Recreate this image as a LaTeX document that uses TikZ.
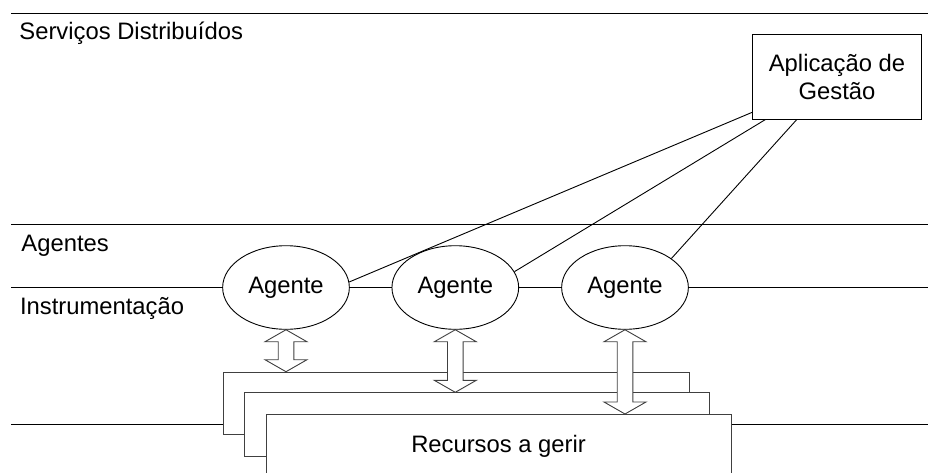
\documentclass[tikz,border=0pt]{standalone}
\usepackage{fontspec}
\setmainfont{Liberation Sans}
\usetikzlibrary{shapes.geometric,calc}
\tikzset{
  lab/.style={anchor=base west, inner sep=0pt},
  agent/.style={ellipse, draw, fill=white, minimum width=126.7pt, minimum height=83.6pt, inner sep=0pt},
  res/.style={draw=black!75, fill=white, inner sep=0pt, anchor=north west},
  arrowbox/.style={draw=black!75, fill=white, line join=miter},
  appbox/.style={draw, fill=white, minimum width=169.4pt, minimum height=84.3pt, align=center, inner sep=0pt},
}
\newcommand\dblarr[2]{%
  \draw[arrowbox] let \p1=(#1.south), \p2=(#1.south |- #2.north) in
    (\x1,\y1) -- (\x1+21pt,\y1-12pt) -- (\x1+7.8pt,\y1-12pt) -- (\x1+7.8pt,\y2+12pt)
    -- (\x1+21pt,\y2+12pt) -- (\x2,\y2) -- (\x1-21pt,\y2+12pt) -- (\x1-7.8pt,\y2+12pt)
    -- (\x1-7.8pt,\y1-12pt) -- (\x1-21pt,\y1-12pt) -- cycle;}
\begin{document}
\begin{tikzpicture}[x=1pt,y=-1pt,font=\fontsize{23.8}{27.7}\selectfont,line width=0.9pt]
\clip (0,0) rectangle (929,472);
\fill[white] (0,0) rectangle (929,472);

% layer lines
\coordinate (t0) at (11,13.3);  \coordinate (t1) at (928,13.3);
\coordinate (m0) at (11,224.7); \coordinate (m1) at (928,224.7);
\coordinate (i0) at (11,287.5); \coordinate (i1) at (928,287.5);
\coordinate (b0) at (11,424);   \coordinate (b1) at (928,424);
\draw (t0) -- (t1);
\draw (m0) -- (m1);

% labels
\node[lab] (sd) at (19,39.5) {Serviços Distribuídos};
\node[lab] (ag) at (21,251) {Agentes};
\node[lab] (ins) at (19.6,314.5) {Instrumentação};

% management application
\node[appbox] (app) at (837,76.85) {Aplicação de\\Gestão};

% resources
\node[res, minimum width=466pt, minimum height=62.6pt] (r1) at (222.7,371.7) {};
\node[res, minimum width=465pt, minimum height=63.4pt] (r2) at (244.3,392.3) {};
\node[res, minimum width=465.2pt, minimum height=63.8pt] (r3) at (265.5,414) {Recursos a gerir};

% agents
\node[agent] (a1) at (286,287.5) {Agente};
\node[agent] (a2) at (455.3,287.5) {Agente};
\node[agent] (a3) at (625,287.5) {Agente};

% horizontal segments
\draw (i0) -- (a1.west);
\draw (a1.east) -- (a2.west);
\draw (a2.east) -- (a3.west);
\draw (a3.east) -- (i1);
\draw (b0) -- (b0 -| r1.west);
\draw (r3.east |- b1) -- (b1);

% links from application to agents
\coordinate (p1) at ($(app.south west)+(0,-7)$);
\coordinate (p2) at ($(app.south west)+(13.7,0)$);
\coordinate (p3) at ($(app.south west)+(45,0)$);
\draw (p1) -- (a1.5);
\draw (p2) -- (a2.15);
\draw (p3) -- (a3.32);

% double arrows
\dblarr{a1}{r1}
\dblarr{a2}{r2}
\dblarr{a3}{r3}
\end{tikzpicture}
\end{document}
